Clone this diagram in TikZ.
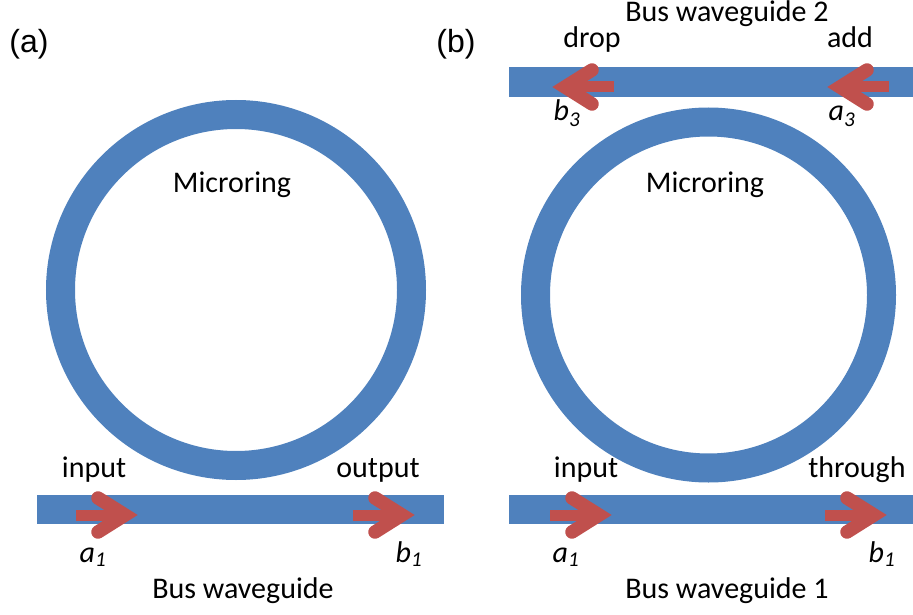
\documentclass[tikz,border=0pt]{standalone}
\usepackage{fontspec}
\setmainfont{Carlito}
\newfontfamily\panelfont{Liberation Sans}
\definecolor{guideblue}{HTML}{4F81BD}
\definecolor{flowred}{HTML}{C0504D}
\tikzset{
  guide/.style={fill=guideblue, draw=none},
  ringguide/.style={draw=guideblue, line width=29pt},
  lbl/.style={anchor=base, inner sep=0pt, font=\fontsize{30}{36}\selectfont},
  panel/.style={anchor=base, inner sep=0pt, font=\panelfont\fontsize{32}{36}\selectfont},
  pics/flowarrow/.style={code={
    \draw[flowred, line width=11pt, line cap=butt] (-49,0) -- (-4,0);
    \draw[flowred, line width=13.5pt, line cap=round, line join=miter]
      (-27,-17) -- (0,0) -- (-27,17);
  }}
}
\newcommand{\sig}[2]{\textit{#1}\textsubscript{\textit{#2}}}
\begin{document}
\begin{tikzpicture}[x=1pt, y=-1pt]
\useasboundingbox (0,0) rectangle (913,615);

% ---- (a) all-pass ring ----
\node[panel] (pa) at (29,53) {(a)};
\draw[ringguide] (236,290) circle (175.5);
\fill[guide] (37,495) rectangle (444,524);
\pic at (125,515) {flowarrow};
\pic at (402,515) {flowarrow};
\node[lbl] (ina) at (94,477) {input};
\node[lbl] (outa) at (378,477) {output};
\node[lbl] (a1a) at (93,562) {\sig{a}{1}};
\node[lbl] (b1a) at (409,562) {\sig{b}{1}};
\node[lbl] (busa) at (243,598) {Bus waveguide};
\node[lbl] (ringa) at (232,192) {Microring};

% ---- (b) add-drop ring ----
\node[panel] (pb) at (456,53) {(b)};
\draw[ringguide] (708.5,295) circle (173);
\fill[guide] (509,495) rectangle (913,524);
\fill[guide] (509,67) rectangle (913,97);
\pic at (599,515) {flowarrow};
\pic at (874,515) {flowarrow};
\pic[xscale=-1] at (565,87) {flowarrow};
\pic[xscale=-1] at (840,87) {flowarrow};
\node[lbl] (inb) at (586,477) {input};
\node[lbl] (thb) at (857,477) {through};
\node[lbl] (a1b) at (566,562) {\sig{a}{1}};
\node[lbl] (b1b) at (882,562) {\sig{b}{1}};
\node[lbl] (busb) at (727,598) {Bus waveguide 1};
\node[lbl] (ringb) at (705,192) {Microring};
\node[lbl] (bus2) at (727,22) {Bus waveguide 2};
\node[lbl] (drop) at (592,48) {drop};
\node[lbl] (add) at (850,48) {add};
\node[lbl] (b3) at (567,121) {\sig{b}{3}};
\node[lbl] (a3) at (842,121) {\sig{a}{3}};
\end{tikzpicture}
\end{document}
